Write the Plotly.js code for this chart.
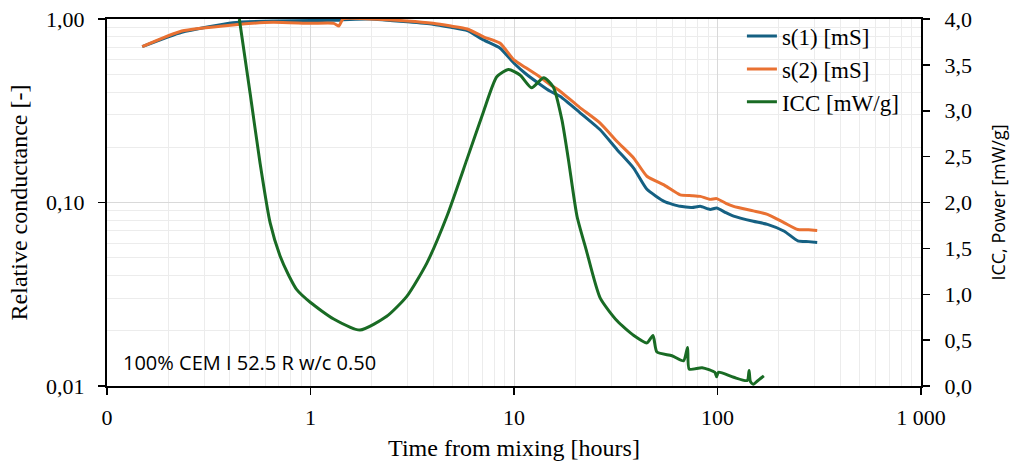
<!DOCTYPE html>
<html>
<head>
<meta charset="utf-8">
<script src="https://cdn.plot.ly/plotly-3.0.1.min.js"></script>
<style>html,body{margin:0;padding:0;background:#fff;}#chart{width:1012px;height:468px;}</style>
</head>
<body>
<div id="chart"></div>
<script>
// Time [hours] for conductance series
const tS = [0.149, 0.233, 0.416, 0.655, 1.0, 1.30, 1.38, 1.445, 1.96, 3.0, 4.0, 4.9, 5.9, 7.08, 8.55, 10, 11.5, 13.45, 15, 16.9, 21, 26.5, 32.1, 38.7, 45, 55, 65.6, 75, 82.3, 92, 99, 110, 120, 150, 176, 213, 248, 280, 309];
// s(1) relative conductance
const s1 = [0.707, 0.847, 0.955, 0.975, 0.98, 0.985, 0.985, 0.99, 1.0, 0.965, 0.936, 0.90, 0.864, 0.769, 0.693, 0.574, 0.50, 0.44, 0.405, 0.378, 0.31, 0.249, 0.194, 0.154, 0.118, 0.101, 0.0953, 0.094, 0.0953, 0.0917, 0.0934, 0.088, 0.0843, 0.079, 0.0760, 0.0697, 0.0618, 0.0612, 0.0606];
// s(2) relative conductance
const s2 = [0.707, 0.86, 0.928, 0.96, 0.947, 0.947, 0.916, 1.0, 1.0, 0.975, 0.947, 0.915, 0.882, 0.80, 0.738, 0.598, 0.54, 0.482, 0.44, 0.403, 0.33, 0.271, 0.215, 0.175, 0.139, 0.124, 0.110, 0.109, 0.108, 0.104, 0.105, 0.099, 0.0953, 0.09, 0.0862, 0.0775, 0.0712, 0.071, 0.0704];
// ICC time [hours] and power [mW/g]
const tI = [0.447, 0.505, 0.565, 0.633, 0.708, 0.78, 0.856, 1.0, 1.30, 1.75, 2.37, 2.98, 3.73, 4.68, 5.87, 7.08, 8.23, 9.4, 10.7, 12.2, 14.0, 15.6, 17.2, 18.5, 20.4, 22.6, 26.5, 32.1, 38.8, 45, 48.2, 50.4, 59.7, 68.1, 71.3, 72.6, 84, 97, 99, 101, 120, 140, 143, 145, 150, 160, 169];
const icc = [4.0, 3.19, 2.43, 1.78, 1.42, 1.21, 1.05, 0.91, 0.73, 0.61, 0.76, 0.98, 1.34, 1.85, 2.47, 2.99, 3.37, 3.45, 3.39, 3.25, 3.36, 3.26, 2.90, 2.47, 1.85, 1.49, 0.96, 0.71, 0.55, 0.47, 0.55, 0.37, 0.33, 0.275, 0.42, 0.185, 0.20, 0.15, 0.10, 0.15, 0.095, 0.06, 0.17, 0.05, 0.02, 0.07, 0.11];

const seriesNames = ["s(1) [mS]", "s(2) [mS]", "ICC [mW/g]"];
const xTickVals = [0.1, 1, 10, 100, 1000];
const xTickText = ["0", "1", "10", "100", "1 000"];
const yTickVals = [0.01, 0.1, 1];
const yTickText = ["0,01", "0,10", "1,00"];

const minorX = [];
[0.1, 1, 10, 100].forEach(d => { for (let k = 2; k <= 9; k++) minorX.push(d * k); });
const minorY = [];
[0.01, 0.1].forEach(d => { for (let k = 2; k <= 9; k++) minorY.push(d * k); });

const serif = "Liberation Serif, Times New Roman, serif";
const sans = "Open Sans, Noto Sans, sans-serif";

const traces = [
  {x: tS, y: s1, name: seriesNames[0], type: "scatter", mode: "lines", line: {color: "#156082", width: 3, shape: "spline", smoothing: 0.5}, yaxis: "y"},
  {x: tS, y: s2, name: seriesNames[1], type: "scatter", mode: "lines", line: {color: "#E97132", width: 3, shape: "spline", smoothing: 0.5}, yaxis: "y"},
  {x: tI, y: icc, name: seriesNames[2], type: "scatter", mode: "lines", line: {color: "#196B24", width: 3, shape: "spline", smoothing: 0.6}, yaxis: "y2"}
];

const layout = {
  width: 1012, height: 468,
  margin: {l: 107, r: 91, t: 19, b: 82},
  paper_bgcolor: "#fff", plot_bgcolor: "#fff",
  separators: ", ",
  font: {family: serif, color: "#000", size: 22},
  showlegend: true,
  legend: {x: 0.78, y: 1.012, xanchor: "left", yanchor: "top", bgcolor: "rgba(255,255,255,0)", font: {family: serif, size: 23, color: "#000"}, borderwidth: 0},
  shapes: [{
    type: "rect", xref: "x domain", yref: "y domain", layer: "below",
    x0: 0.772, x1: 0.985, y0: 0.735, y1: 0.994,
    fillcolor: "#fff", line: {width: 0}
  }],
  xaxis: {
    type: "log", range: [-1, 3],
    tickmode: "array", tickvals: xTickVals, ticktext: xTickText,
    ticks: "outside", ticklen: 7, tickwidth: 1.5, tickcolor: "#000",
    ticklabelstandoff: 4,
    showline: true, linecolor: "#000", linewidth: 2, mirror: true,
    showgrid: true, gridcolor: "#d9d9d9", gridwidth: 1,
    minor: {tickmode: "array", tickvals: minorX, showgrid: true, gridcolor: "#ececec", gridwidth: 1, ticks: ""},
    zeroline: false,
    tickfont: {family: serif, size: 22},
    title: {text: "Time from mixing [hours]", font: {family: serif, size: 24}, standoff: 10}
  },
  yaxis: {
    type: "log", range: [-2, 0],
    tickmode: "array", tickvals: yTickVals, ticktext: yTickText,
    ticks: "outside", ticklen: 7, tickwidth: 1.5, tickcolor: "#000",
    ticklabelstandoff: 9,
    showline: true, linecolor: "#000", linewidth: 2,
    showgrid: true, gridcolor: "#d9d9d9", gridwidth: 1,
    minor: {tickmode: "array", tickvals: minorY, showgrid: true, gridcolor: "#ececec", gridwidth: 1, ticks: ""},
    zeroline: false,
    tickfont: {family: serif, size: 22},
    title: {text: "Relative conductance [-]", font: {family: serif, size: 24}, standoff: 12}
  },
  yaxis2: {
    overlaying: "y", side: "right", range: [0, 4], dtick: 0.5, tick0: 0,
    tickformat: ".1f",
    ticks: "outside", ticklen: 7, tickwidth: 1.5, tickcolor: "#000",
    ticklabelstandoff: 10,
    showline: true, linecolor: "#000", linewidth: 2,
    showgrid: false, zeroline: false,
    tickfont: {family: serif, size: 22},
    title: {text: "ICC, Power [mW/g]", font: {family: sans, size: 18}, standoff: 21}
  },
  annotations: [{
    xref: "paper", yref: "paper", x: 0.017, y: 0.065, xanchor: "left", yanchor: "middle",
    text: "100% CEM I 52.5 R w/c 0.50", showarrow: false,
    font: {family: sans, size: 20, color: "#000"}
  }]
};

Plotly.newPlot("chart", traces, layout, {displayModeBar: false, staticPlot: true});
</script>
</body>
</html>
